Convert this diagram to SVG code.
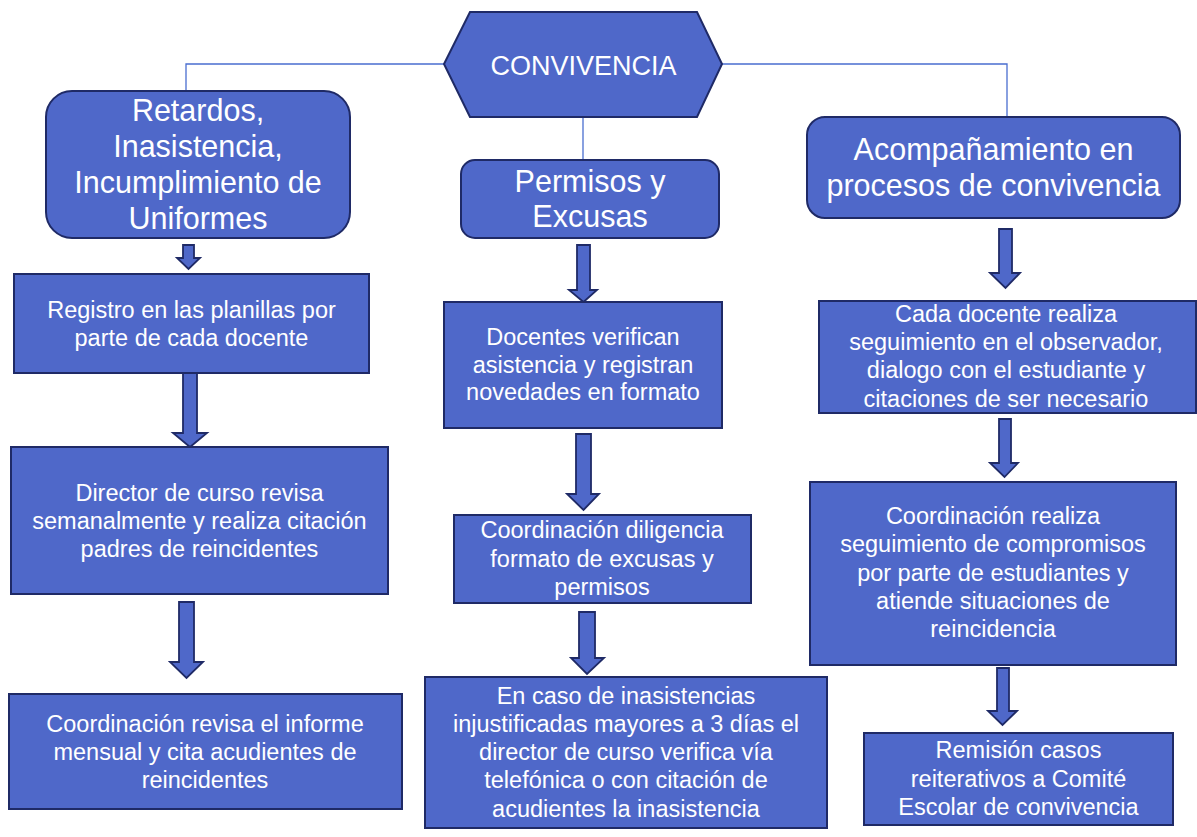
<svg xmlns="http://www.w3.org/2000/svg" width="1197" height="837" viewBox="0 0 1197 837">
<style>
.n{fill:#4F68C9;stroke:#1F2A66;stroke-width:2}
.a{fill:#4F68C9;stroke:#1F2A66;stroke-width:1.8;stroke-linejoin:miter}
.c{fill:none;stroke:#4A6ED0;stroke-width:1.3}
text{font-family:"Liberation Sans",Arial,sans-serif;fill:#FFFFFF;text-anchor:middle}
.h{font-size:30.5px}
.b{font-size:23.5px}
.t{font-size:27px}
</style>
<rect width="1197" height="837" fill="#FFFFFF"/>
<g id="connectors">
<polyline class="c" points="444,64 186,64 186,91"/>
<polyline class="c" points="722,64 1007,64 1007,117"/>
<line class="c" x1="583" y1="117" x2="583" y2="160"/>
<polygon class="a" points="183,245 194,245 194,258 200,258 188.5,269 177,258 183,258"/>
<polygon class="a" points="183,373 197,373 197,433 207,433 190,447 173,433 183,433"/>
<polygon class="a" points="179,602 194,602 194,662 203,662 186.5,678 170,662 179,662"/>
<polygon class="a" points="577,245 590,245 590,290 597,290 583.5,302 569,290 577,290"/>
<polygon class="a" points="576,434 591,434 591,494 599,494 583.5,510 567,494 576,494"/>
<polygon class="a" points="579,612 595,612 595,658 604,658 587,674 571,658 579,658"/>
<polygon class="a" points="999,229 1012,229 1012,273 1020,273 1005.5,288 990,273 999,273"/>
<polygon class="a" points="999,419 1011,419 1011,463 1018,463 1004.5,477 990,463 999,463"/>
<polygon class="a" points="997,668 1009,668 1009,711 1017,711 1002.5,725 988,711 997,711"/>
</g>
<g id="convivencia">
<polygon class="n" points="470,12 697,12 722,64 697,117 470,117 444,64"/>
<text class="t" x="583.5" y="75">CONVIVENCIA</text>
</g>
<g id="retardos">
<rect class="n" x="46" y="91" width="304" height="147" rx="26"/>
<text class="h" x="198" y="121">Retardos,</text>
<text class="h" x="198" y="157">Inasistencia,</text>
<text class="h" x="198" y="193">Incumplimiento de</text>
<text class="h" x="198" y="229">Uniformes</text>
</g>
<g id="permisos">
<rect class="n" x="461" y="160" width="258" height="78" rx="14"/>
<text class="h" x="590" y="192">Permisos y</text>
<text class="h" x="590" y="227">Excusas</text>
</g>
<g id="acompanamiento">
<rect class="n" x="807" y="117" width="373" height="101" rx="18"/>
<text class="h" x="993.5" y="160">Acompañamiento en</text>
<text class="h" x="993.5" y="196">procesos de convivencia</text>
</g>
<g id="registro">
<rect class="n" x="14" y="274" width="355" height="99"/>
<text class="b" x="191.5" y="318">Registro en las planillas por</text>
<text class="b" x="191.5" y="346">parte de cada docente</text>
</g>
<g id="director">
<rect class="n" x="11" y="447" width="377" height="147"/>
<text class="b" x="199.5" y="501">Director de curso revisa</text>
<text class="b" x="199.5" y="529">semanalmente y realiza citación</text>
<text class="b" x="199.5" y="557">padres de reincidentes</text>
</g>
<g id="coordinacion-revisa">
<rect class="n" x="9" y="694" width="393" height="115"/>
<text class="b" x="205" y="732">Coordinación revisa el informe</text>
<text class="b" x="205" y="760">mensual y cita acudientes de</text>
<text class="b" x="205" y="788">reincidentes</text>
</g>
<g id="docentes">
<rect class="n" x="444" y="302" width="278" height="126"/>
<text class="b" x="583" y="345">Docentes verifican</text>
<text class="b" x="583" y="373">asistencia y registran</text>
<text class="b" x="583" y="400">novedades en formato</text>
</g>
<g id="coordinacion-diligencia">
<rect class="n" x="454" y="515" width="297" height="88"/>
<text class="b" x="602" y="538">Coordinación diligencia</text>
<text class="b" x="602" y="567">formato de excusas y</text>
<text class="b" x="602" y="595">permisos</text>
</g>
<g id="en-caso">
<rect class="n" x="425" y="677" width="402" height="151"/>
<text class="b" x="626" y="704">En caso de inasistencias</text>
<text class="b" x="626" y="732">injustificadas mayores a 3 días el</text>
<text class="b" x="626" y="760">director de curso verifica vía</text>
<text class="b" x="626" y="788">telefónica o con citación de</text>
<text class="b" x="626" y="817">acudientes la inasistencia</text>
</g>
<g id="cada-docente">
<rect class="n" x="819" y="301" width="377" height="112"/>
<text class="b" x="1006" y="322">Cada docente realiza</text>
<text class="b" x="1006" y="350">seguimiento en el observador,</text>
<text class="b" x="1006" y="378">dialogo con el estudiante y</text>
<text class="b" x="1006" y="407">citaciones de ser necesario</text>
</g>
<g id="coordinacion-realiza">
<rect class="n" x="810" y="482" width="366" height="183"/>
<text class="b" x="993" y="524">Coordinación realiza</text>
<text class="b" x="993" y="552">seguimiento de compromisos</text>
<text class="b" x="993" y="581">por parte de estudiantes y</text>
<text class="b" x="993" y="609">atiende situaciones de</text>
<text class="b" x="993" y="637">reincidencia</text>
</g>
<g id="remision">
<rect class="n" x="864" y="733" width="309" height="92"/>
<text class="b" x="1018.5" y="758">Remisión casos</text>
<text class="b" x="1018.5" y="787">reiterativos a Comité</text>
<text class="b" x="1018.5" y="815">Escolar de convivencia</text>
</g>
</svg>
